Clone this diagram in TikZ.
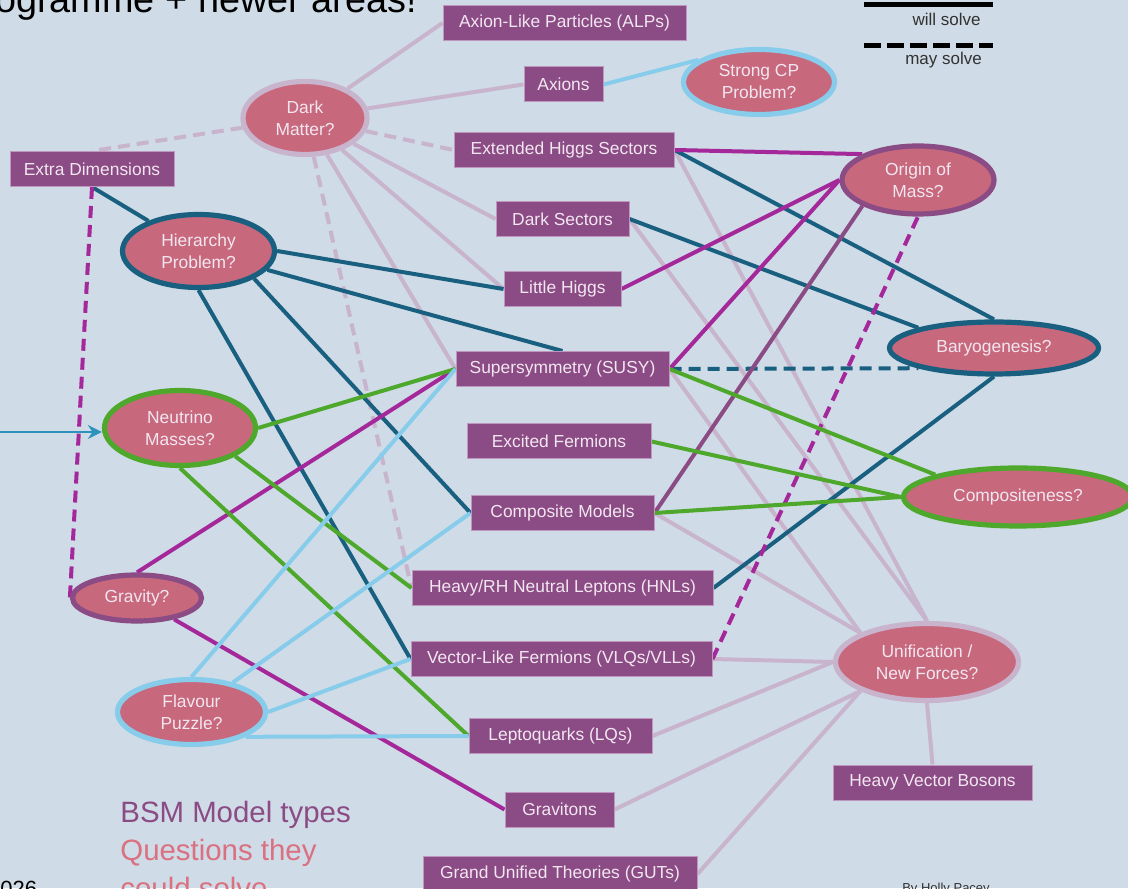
\documentclass[tikz,border=0pt]{standalone}
\usepackage{fontspec}
\setmainfont{Liberation Sans}
\usetikzlibrary{arrows.meta,shapes.geometric}
\definecolor{cfond}{RGB}{207,219,230}
\definecolor{cboite}{RGB}{139,75,132}
\definecolor{cbord}{RGB}{190,150,190}
\definecolor{cbulle}{RGB}{200,104,125}
\definecolor{ctexte}{RGB}{242,230,240}
\definecolor{cmauve}{RGB}{200,180,204}
\definecolor{cteal}{RGB}{25,96,128}
\definecolor{cmag}{RGB}{165,40,155}
\definecolor{cvert}{RGB}{78,168,44}
\definecolor{cciel}{RGB}{135,205,235}
\definecolor{cfleche}{RGB}{45,147,189}
\definecolor{crose}{RGB}{218,112,128}
\definecolor{cgris}{RGB}{50,50,50}
\pgfdeclarelayer{fond}
\pgfdeclarelayer{liens}
\pgfsetlayers{fond,liens,main}

\begin{document}
\begin{tikzpicture}[x=50pt, y=50pt, >={Stealth[length=7pt,width=7pt]},
  boite/.style={rectangle, fill=cboite, draw=cbord, line width=0.5pt, text=ctexte,
    inner sep=0pt, minimum height=17.5pt, font=\fontsize{8.7}{10}\selectfont},
  bulle/.style={ellipse, fill=cbulle, line width=2.6pt, text=ctexte, inner sep=0pt,
    align=center, font=\fontsize{8.7}{11}\selectfont},
  lien/.style={line width=2pt},
  tirets/.style={dash pattern=on 6pt off 3.5pt},
  legtxt/.style={text=cgris, inner sep=0pt, font=\fontsize{8.5}{10}\selectfont}]
\useasboundingbox (0,0) rectangle (11.28,8.88);
% fond
\begin{pgfonlayer}{fond}
\fill[cfond] (0,0) rectangle (11.28,8.88);
\end{pgfonlayer}
% titre coupé et textes du bas
\node[anchor=base east, inner sep=0pt, font=\fontsize{18.9}{20}\selectfont] (titre) at (4.17,8.75) {ogramme + newer areas!};
\node[anchor=base west, inner sep=0pt, font=\fontsize{11}{12}\selectfont] (annee) at (0,-0.08) {026};
\node[anchor=base west, inner sep=0pt, text=cboite, font=\fontsize{14.7}{16}\selectfont] (types) at (1.20,0.66) {BSM Model types};
\node[anchor=base west, inner sep=0pt, text=crose, font=\fontsize{14.7}{16}\selectfont] (questions) at (1.20,0.28) {Questions they};
\node[anchor=base west, inner sep=0pt, text=crose, font=\fontsize{14.7}{16}\selectfont] (solve) at (1.20,-0.10) {could solve};
\node[anchor=base, inner sep=0pt, text=cgris, font=\fontsize{6.5}{7}\selectfont] (auteur) at (9.46,-0.04) {By Holly Pacey};
% légende
\coordinate (pleinA) at (8.64,8.83);
\coordinate (pleinB) at (9.93,8.83);
\draw[line width=2.5pt] (pleinA) -- (pleinB);
\node[legtxt] (will) at (9.465,8.69) {will solve};
\coordinate (tiretA) at (8.64,8.42);
\coordinate (tiretB) at (9.93,8.42);
\draw[line width=2.5pt, dash pattern=on 8.5pt off 3pt] (tiretA) -- (tiretB);
\node[legtxt] (may) at (9.435,8.28) {may solve};
% modèles BSM (boîtes)
\node[boite, minimum width=121.5pt] (alps) at (5.645,8.65) {Axion-Like Particles (ALPs)};
\node[boite, minimum width=39.5pt] (axions) at (5.635,8.035) {Axions};
\node[boite, minimum width=110pt] (ehs) at (5.64,7.38) {Extended Higgs Sectors};
\node[boite, minimum width=82pt] (xdim) at (0.92,7.19) {Extra Dimensions};
\node[boite, minimum width=66.5pt] (dark) at (5.625,6.69) {Dark Sectors};
\node[boite, minimum width=58.5pt] (lh) at (5.625,5.99) {Little Higgs};
\node[boite, minimum width=106.5pt] (susy) at (5.625,5.19) {Supersymmetry (SUSY)};
\node[boite, minimum width=92pt] (ef) at (5.59,4.465) {Excited Fermions};
\node[boite, minimum width=91.5pt] (comp) at (5.625,3.75) {Composite Models};
\node[boite, minimum width=150.5pt] (hnl) at (5.625,3.00) {Heavy/RH Neutral Leptons (HNLs)};
\node[boite, minimum width=150.5pt] (vlf) at (5.615,2.29) {Vector-Like Fermions (VLQs/VLLs)};
\node[boite, minimum width=91.5pt] (lq) at (5.605,1.52) {Leptoquarks (LQs)};
\node[boite, minimum width=54.5pt] (gravitons) at (5.595,0.785) {Gravitons};
\node[boite, minimum width=137pt] (guts) at (5.60,0.14) {Grand Unified Theories (GUTs)};
\node[boite, minimum width=99.5pt] (hvb) at (9.325,1.055) {Heavy Vector Bosons};
% questions (bulles)
\node[bulle, draw=cmauve, minimum width=62pt, minimum height=36.5pt] (dm) at (3.05,7.70) {Dark\\Matter?};
\node[bulle, draw=cciel, minimum width=75.5pt, minimum height=32.5pt] (scp) at (7.59,8.06) {Strong CP\\Problem?};
\node[bulle, draw=cteal, minimum width=76pt, minimum height=36.5pt] (hier) at (1.985,6.37) {Hierarchy\\Problem?};
\node[bulle, draw=cvert, minimum width=75.5pt, minimum height=37.5pt] (nu) at (1.80,4.60) {Neutrino\\Masses?};
\node[bulle, draw=cboite, minimum width=64.5pt, minimum height=23pt] (grav) at (1.37,2.90) {Gravity?};
\node[bulle, draw=cciel, minimum width=74pt, minimum height=32.5pt] (flav) at (1.915,1.76) {Flavour\\Puzzle?};
\node[bulle, draw=cboite, minimum width=76pt, minimum height=34pt] (origin) at (9.18,7.08) {Origin of\\Mass?};
\node[bulle, draw=cteal, minimum width=104.5pt, minimum height=26pt] (baryo) at (9.94,5.40) {Baryogenesis?};
\node[bulle, draw=cvert, minimum width=114.5pt, minimum height=29pt] (compo) at (10.18,3.91) {Compositeness?};
\node[bulle, draw=cmauve, minimum width=91.5pt, minimum height=38.5pt] (unif) at (9.27,2.26) {Unification /\\New Forces?};
\begin{pgfonlayer}{liens}
% matière noire (mauve)
\draw[lien, cmauve] (dm) -- (alps.west);
\draw[lien, cmauve] (dm) -- (axions.west);
\draw[lien, cmauve, tirets] (dm) -- (ehs.west);
\draw[lien, cmauve, tirets] (dm) -- (xdim.north);
\draw[lien, cmauve] (dm) -- (dark.west);
\draw[lien, cmauve] (dm) -- (lh.west);
\draw[lien, cmauve] (dm) -- (susy.west);
\draw[lien, cmauve, tirets] (dm) -- (hnl.west);
% unification (mauve)
\draw[lien, cmauve] (ehs.east) -- (unif.north);
\draw[lien, cmauve] (dark.east) -- (unif.north);
\draw[lien, cmauve] (susy.east) -- (unif.north west);
\draw[lien, cmauve] (comp.east) -- (unif.north west);
\draw[lien, cmauve] (vlf.east) -- (unif.west);
\draw[lien, cmauve] (lq.east) -- (unif.west);
\draw[lien, cmauve] (gravitons.east) -- (unif.south west);
\draw[lien, cmauve] (guts.east) -- (unif.south west);
\draw[lien, cmauve] (unif.south) -- (hvb.north);
% hiérarchie (bleu canard)
\draw[lien, cteal] (xdim.south) -- (hier);
\draw[lien, cteal] (hier.east) -- (lh.west);
\draw[lien, cteal] (hier) -- (susy.north);
\draw[lien, cteal] (hier.south east) -- (comp.west);
\draw[lien, cteal] (hier.south) -- (vlf.west);
% baryogenèse
\draw[lien, cteal] (ehs.east) -- (baryo.north);
\draw[lien, cteal] (dark.east) -- (baryo.north west);
\draw[lien, cteal, tirets] (susy.east) -- (baryo.south west);
\draw[lien, cteal] (hnl.east) -- (baryo.south);
% origine de la masse (magenta)
\draw[lien, cmag] (ehs.east) -- (origin.north west);
\draw[lien, cmag] (lh.east) -- (origin.west);
\draw[lien, cmag] (susy.east) -- (origin.west);
\draw[lien, cboite] (comp.east) -- (origin.south west);
\draw[lien, cmag, tirets] (vlf.east) -- (origin.south);
% gravité
\draw[lien, cmag, tirets] (xdim.south) -- (grav.west);
\draw[lien, cmag] (grav.north) -- (susy.west);
\draw[lien, cmag] (grav) -- (gravitons.west);
% neutrinos et compositeness (vert)
\draw[lien, cvert] (nu.east) -- (susy.west);
\draw[lien, cvert] (nu.south east) -- (hnl.west);
\draw[lien, cvert] (nu.south) -- (lq.west);
\draw[lien, cvert] (susy.east) -- (compo.north west);
\draw[lien, cvert] (ef.east) -- (compo.west);
\draw[lien, cvert] (comp.east) -- (compo.west);
% saveur et CP fort (bleu ciel)
\draw[lien, cciel] (flav.north) -- (susy.west);
\draw[lien, cciel] (flav) -- (comp.west);
\draw[lien, cciel] (flav.east) -- (vlf.west);
\draw[lien, cciel] (flav.south east) -- (lq.west);
\draw[lien, cciel] (axions.east) -- (scp.160);
% flèche d'entrée
\coordinate (entree) at (0,4.56);
\draw[->, cfleche, line width=1pt] (entree) -- (entree -| nu.west);
\end{pgfonlayer}
\end{tikzpicture}
\end{document}
